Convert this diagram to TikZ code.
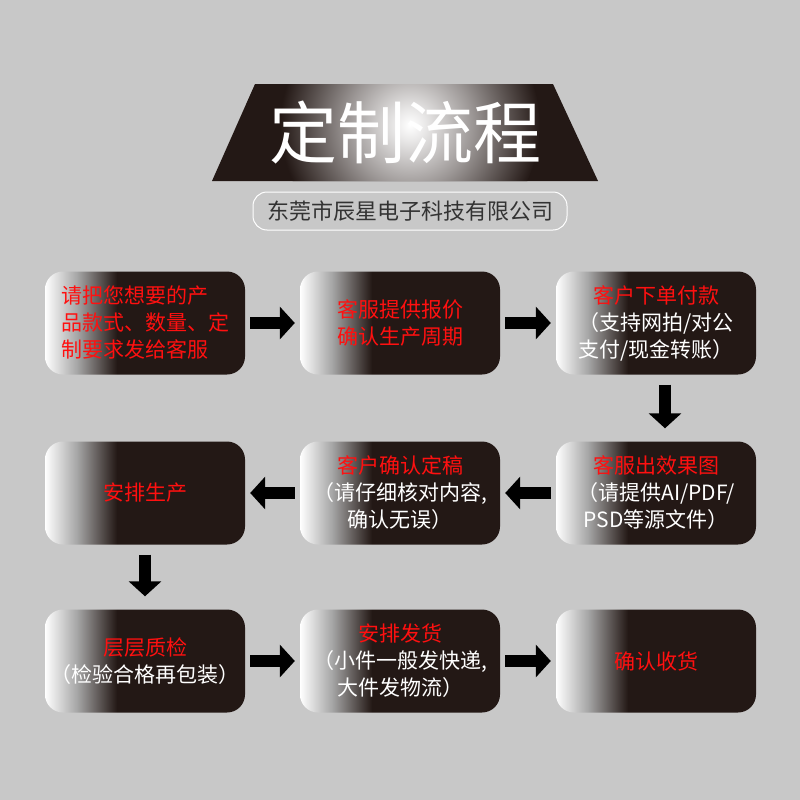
\documentclass[tikz,border=0pt]{standalone}
\usepackage{fontspec}
\setmainfont{Noto Sans CJK SC}
\usetikzlibrary{arrows.meta}
\definecolor{bg}{HTML}{C8C8C8}
\definecolor{dk}{HTML}{231815}
\definecolor{rd}{HTML}{FF1010}
\pgfdeclarehorizontalshading{boxshade}{100bp}{color(0bp)=(white); color(25bp)=(white); color(33bp)=(gray!70); color(43bp)=(dk); color(100bp)=(dk)}
\pgfdeclareradialshading{glow}{\pgfpoint{0bp}{0bp}}{color(0bp)=(white); color(3bp)=(white!90!dk); color(12bp)=(white!55!dk); color(25bp)=(dk); color(50bp)=(dk)}
\tikzset{
  stepbox/.style={rounded corners=18pt, minimum width=200pt, minimum height=103pt, shading=boxshade, inner sep=0pt, font=\fontsize{21pt}{27pt}\selectfont, text=white, align=center},
  blk/.style={line width=12pt, -{Triangle[length=15pt,width=32pt]}, draw=black}
}
\newcommand{\rt}[1]{\textcolor{rd}{#1}}
\begin{document}
\begin{tikzpicture}[x=1pt,y=-1pt]
\fill[bg] (0,0) rectangle (800,800);
\useasboundingbox (0,0) rectangle (800,800);
\begin{scope}
\clip (255,84) -- (553,84) -- (598,181) -- (212,181) -- cycle;
\fill[dk] (200,80) rectangle (600,185);
\shade[shading=glow] (410,125) circle (130);
\end{scope}
\node[text=white, font=\fontsize{68pt}{70pt}\selectfont] (title) at (405,133) {定制流程};
\draw[white, line width=1pt, rounded corners=14pt] (253,192) rectangle (567,230);
\node[text=black!80, font=\fontsize{22pt}{24pt}\selectfont] (sub) at (410,211) {东莞市辰星电子科技有限公司};

\node[stepbox, align=left] (b1) at (145,323) {\rt{请把您想要的产}\\\rt{品款式、数量、定}\\\rt{制要求发给客服}};
\node[stepbox] (b2) at (400,323) {\rt{客服提供报价}\\\rt{确认生产周期}};
\node[stepbox] (b3) at (656,323) {\rt{客户下单付款}\\（支持网拍/对公\\支付/现金转账）};
\node[stepbox] (b6) at (145,493) {\rt{安排生产}};
\node[stepbox] (b5) at (400,493) {\rt{客户确认定稿}\\（请仔细核对内容,\\确认无误）};
\node[stepbox] (b4) at (656,493) {\rt{客服出效果图}\\（请提供AI/PDF/\\PSD等源文件）};
\node[stepbox] (b7) at (145,661) {\rt{层层质检}\\（检验合格再包装）};
\node[stepbox] (b8) at (400,661) {\rt{安排发货}\\（小件一般发快递,\\大件发物流）};
\node[stepbox] (b9) at (656,661) {\rt{确认收货}};

\draw[blk, shorten <=5pt, shorten >=5pt] (b1) -- (b2);
\draw[blk, shorten <=5pt, shorten >=5pt] (b2) -- (b3);
\draw[blk, shorten <=10pt, shorten >=13pt] (b3.south -| 665,0) -- (b4.north -| 665,0);
\draw[blk, shorten <=5pt, shorten >=5pt] (b4) -- (b5);
\draw[blk, shorten <=5pt, shorten >=5pt] (b5) -- (b6);
\draw[blk, shorten <=10pt, shorten >=13pt] (b6.south) -- (b7.north);
\draw[blk, shorten <=5pt, shorten >=5pt] (b7) -- (b8);
\draw[blk, shorten <=5pt, shorten >=5pt] (b8) -- (b9);
\end{tikzpicture}
\end{document}
